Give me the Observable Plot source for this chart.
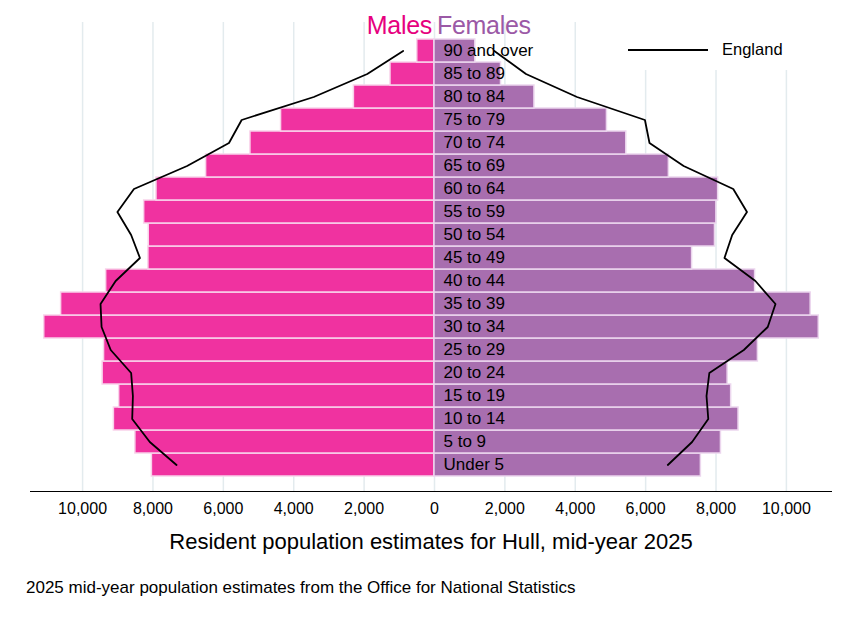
<!DOCTYPE html>
<html>
<head>
<meta charset="utf-8">
<script src="https://cdn.jsdelivr.net/npm/d3@7"></script>
<script src="https://cdn.jsdelivr.net/npm/@observablehq/plot@0.6"></script>
<style>
  html, body { margin: 0; padding: 0; background: #fff; }
  #wrap { position: relative; width: 856px; height: 623px; font-family: "Liberation Sans", Arial, sans-serif; color: #000; overflow: hidden; }
  #chart { position: absolute; left: 0; top: 0; }
  .abs { position: absolute; white-space: nowrap; }
</style>
</head>
<body>
<div id="wrap">
  <div id="chart"></div>
  <div class="abs" style="left:30px;top:491px;width:802px;height:0;border-top:1.7px solid #000;"></div>
  <div class="abs" style="left:0;width:432px;top:11px;text-align:right;font-size:25px;color:#E6007E;letter-spacing:-0.3px;">Males</div>
  <div class="abs" style="left:437px;top:11px;font-size:25px;color:#9B59A6;letter-spacing:-0.3px;">Females</div>
  <div class="abs" style="left:600px;top:0;width:256px;height:70px;background:#fff;">
    <div class="abs" style="left:28px;top:49px;width:80px;height:0;border-top:2px solid #000;"></div>
    <div class="abs" style="left:122px;top:40px;font-size:16.5px;">England</div>
  </div>
  <div class="abs" style="left:0;width:862px;top:529px;text-align:center;font-size:22px;">Resident population estimates for Hull, mid-year 2025</div>
  <div class="abs" style="left:26px;top:578px;font-size:17px;">2025 mid-year population estimates from the Office for National Statistics</div>
</div>
<script>
const ages = ["Under 5","5 to 9","10 to 14","15 to 19","20 to 24","25 to 29","30 to 34","35 to 39","40 to 44","45 to 49","50 to 54","55 to 59","60 to 64","65 to 69","70 to 74","75 to 79","80 to 84","85 to 89","90 and over"];
const males = [8030, 8500, 9110, 8960, 9430, 9390, 11090, 10610, 9330, 8130, 8120, 8250, 7900, 6490, 5230, 4360, 2290, 1250, 490];
const females = [7570, 8140, 8640, 8430, 8330, 9190, 10920, 10690, 9110, 7320, 7970, 8010, 8060, 6660, 5450, 4900, 2840, 1890, 1160];
const englandMales = [7330, 8090, 8590, 8570, 8620, 9200, 9460, 9490, 9060, 8370, 8620, 9010, 8540, 7030, 5840, 5480, 3430, 1910, 890];
const englandFemales = [6630, 7320, 7780, 7730, 7810, 8790, 9470, 9690, 9120, 8240, 8460, 8880, 8490, 7080, 6110, 5980, 4050, 2600, 1700];
const xTicks = [-10000, -8000, -6000, -4000, -2000, 0, 2000, 4000, 6000, 8000, 10000];

const maleRows = ages.map((age, i) => ({age, value: -males[i]}));
const femaleRows = ages.map((age, i) => ({age, value: females[i]}));
const engMaleRows = ages.map((age, i) => ({age, value: -englandMales[i]}));
const engFemaleRows = ages.map((age, i) => ({age, value: englandFemales[i]}));

const fmt = d3.format(",");

const chart = Plot.plot({
  width: 856,
  height: 520,
  marginLeft: 30,
  marginRight: 24,
  marginTop: 22,
  marginBottom: 28,
  style: {fontFamily: "'Liberation Sans', Arial, sans-serif", color: "#000", background: "transparent"},
  x: {domain: [-11480, 11310]},
  y: {domain: ages.slice().reverse(), range: [35.5, 479], padding: 0.02},
  marks: [
    Plot.gridX(xTicks, {stroke: "#e3ebee", strokeOpacity: 1, strokeWidth: 1.5}),
    Plot.barX(maleRows, {x1: () => 0, x2: "value", y: "age", fill: "#F032A0", stroke: "#f9d2ea", strokeWidth: 1.5}),
    Plot.barX(femaleRows, {x1: () => 0, x2: "value", y: "age", fill: "#A86EAF", stroke: "#ecd6ee", strokeWidth: 1.5}),
    Plot.text(ages, {x: () => 0, y: d => d, text: d => d, dx: 9, textAnchor: "start", fontSize: 17, fill: "#000"}),
    Plot.line(engMaleRows, {x: "value", y: "age", stroke: "#000", strokeWidth: 1.8}),
    Plot.line(engFemaleRows, {x: "value", y: "age", stroke: "#000", strokeWidth: 1.8}),
    Plot.axisX({ticks: xTicks, tickFormat: d => fmt(Math.abs(d)), tickSize: 0, tickPadding: 10, fontSize: 16, label: null}),
    Plot.axisY({ticks: [], label: null, tickSize: 0})
  ]
});
document.getElementById("chart").appendChild(chart);
</script>
</body>
</html>
